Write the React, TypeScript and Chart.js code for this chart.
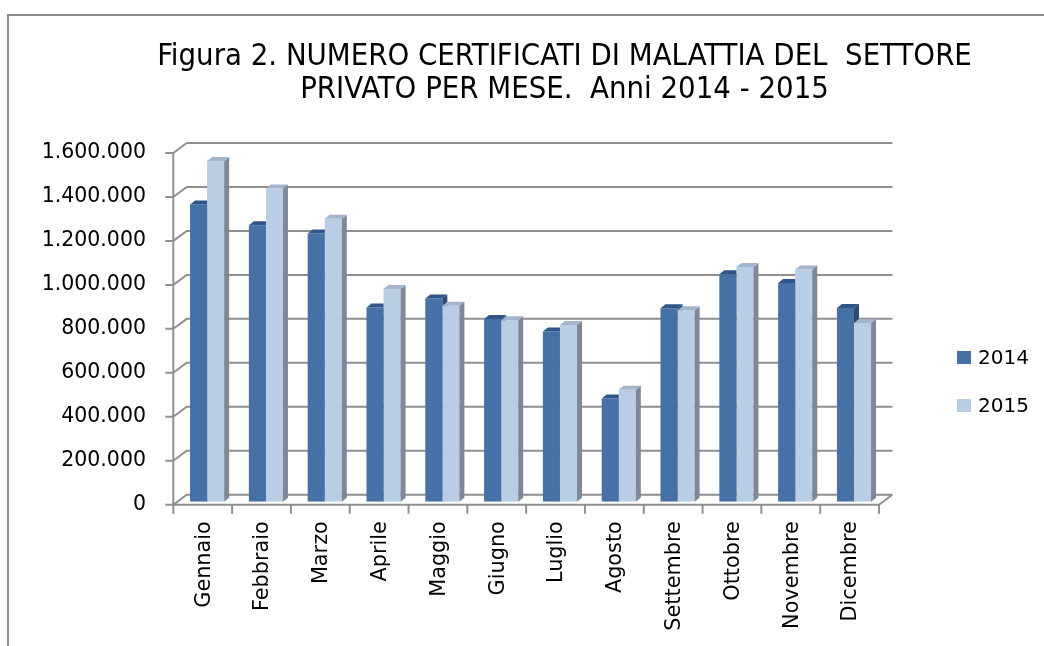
import React, { useEffect, useRef } from 'react';
import { Chart, registerables } from 'chart.js';

Chart.register(...registerables);

// ---------------- data ----------------
const months = [
  'Gennaio', 'Febbraio', 'Marzo', 'Aprile', 'Maggio', 'Giugno',
  'Luglio', 'Agosto', 'Settembre', 'Ottobre', 'Novembre', 'Dicembre',
];
const series2014 = [1352000, 1258000, 1220000, 884000, 924000, 831000, 774000, 470000, 880000, 1035000, 995000, 881000];
const series2015 = [1550000, 1425000, 1287000, 968000, 892000, 825000, 804000, 509000, 871000, 1068000, 1056000, 813000];
const seriesLabels = ['2014', '2015'];
const yTickValues = [0, 200000, 400000, 600000, 800000, 1000000, 1200000, 1400000, 1600000];
const titleLines = [
  'Figura 2. NUMERO CERTIFICATI DI MALATTIA DEL  SETTORE',
  'PRIVATO PER MESE.  Anni 2014 - 2015',
];

// ---------------- layout / style ----------------
const W = 1044;
const H = 646;
const AREA = { left: 177.7, right: 883.4, top: 150, bottom: 501.7 };
const FRONT = { dx: -4.4, dy: 3 };
const DEPTH = { dx: 13.4, dy: -10 };
const BAR_DEPTH = { dx: 5, dy: -4 };
const FONT = "'DejaVu Sans', Verdana, sans-serif";
const FONT_COND = "'DejaVu Sans Condensed', 'DejaVu Sans', Verdana, sans-serif";
const Y_LABEL_SIZE = 20.5;
const X_LABEL_SIZE = 20.8;
const LEGEND_SIZE = 20;
const GRID_COLOR = '#8f8f8f';
const COLORS = {
  front: ['#4571a6', '#b9cde5'],
  side: ['#2b4b75', '#7c8998'],
  top: ['#2f5588', '#a2b5cc'],
};

const fmt = (n: number) => String(Math.round(n)).replace(/\B(?=(\d{3})+(?!\d))/g, '.');

function barGeom(el: any) {
  const { x, y, base, width } = el.getProps(['x', 'y', 'base', 'width'], true);
  return { l: x - width / 2, r: x + width / 2, y, base };
}

function drawFaces(ctx: any, g: any, idx: number) {
  const { l, r, y, base } = g;
  ctx.fillStyle = COLORS.side[idx];
  ctx.beginPath();
  ctx.moveTo(r, y);
  ctx.lineTo(r + BAR_DEPTH.dx, y + BAR_DEPTH.dy);
  ctx.lineTo(r + BAR_DEPTH.dx, base + BAR_DEPTH.dy);
  ctx.lineTo(r, base);
  ctx.closePath();
  ctx.fill();
  ctx.fillStyle = COLORS.top[idx];
  ctx.beginPath();
  ctx.moveTo(l, y);
  ctx.lineTo(r, y);
  ctx.lineTo(r + BAR_DEPTH.dx, y + BAR_DEPTH.dy);
  ctx.lineTo(l + BAR_DEPTH.dx, y + BAR_DEPTH.dy);
  ctx.closePath();
  ctx.fill();
}

const depthPlugin = {
  id: 'depth3d',
  beforeDraw(chart: any) {
    const ctx = chart.ctx;
    ctx.save();
    ctx.fillStyle = '#ffffff';
    ctx.fillRect(0, 0, W, H);
    // outer frame
    ctx.strokeStyle = '#8c8c8c';
    ctx.lineWidth = 2;
    ctx.beginPath();
    ctx.moveTo(8, H);
    ctx.lineTo(8, 15);
    ctx.lineTo(W, 15);
    ctx.stroke();
    // title
    let size = 25;
    ctx.font = `${size}px ${FONT_COND}`;
    const w = ctx.measureText(titleLines[0]).width;
    size = size * 815 / w;
    ctx.font = `${size}px ${FONT_COND}`;
    ctx.fillStyle = '#000';
    ctx.textAlign = 'center';
    ctx.textBaseline = 'alphabetic';
    ctx.fillText(titleLines[0], 564.5, 65);
    ctx.fillText(titleLines[1], 564.5, 98);
    // legend
    const legendY = [357.5, 405.5];
    ctx.font = `${LEGEND_SIZE}px ${FONT}`;
    ctx.textAlign = 'left';
    ctx.textBaseline = 'middle';
    seriesLabels.forEach((lab, i) => {
      ctx.fillStyle = COLORS.front[i];
      ctx.fillRect(957, legendY[i] - 6.5, 14, 13);
      ctx.fillStyle = '#000';
      ctx.fillText(lab, 978, legendY[i] + 1);
    });
    ctx.restore();
  },
  beforeDatasetsDraw(chart: any) {
    const ctx = chart.ctx;
    const ys = chart.scales.y;
    const area = chart.chartArea;
    const fx = area.left + FRONT.dx;
    const fxr = area.right + FRONT.dx;
    const bx = fx + DEPTH.dx;
    const bxr = fxr + DEPTH.dx;
    ctx.save();
    ctx.strokeStyle = GRID_COLOR;
    ctx.lineWidth = 2;
    ctx.lineCap = 'butt';
    ctx.beginPath();
    yTickValues.forEach((v) => {
      const fy = ys.getPixelForValue(v) + FRONT.dy;
      const by = fy + DEPTH.dy;
      ctx.moveTo(fx - 8, fy);
      ctx.lineTo(fx, fy);
      ctx.lineTo(bx, by);
      ctx.lineTo(bxr, by);
    });
    const f0 = ys.getPixelForValue(0) + FRONT.dy;
    const fTop = ys.getPixelForValue(yTickValues[yTickValues.length - 1]) + FRONT.dy;
    ctx.moveTo(fx, fTop);
    ctx.lineTo(fx, f0);
    ctx.moveTo(fxr, f0);
    ctx.lineTo(bxr, f0 + DEPTH.dy);
    ctx.moveTo(fx, f0);
    ctx.lineTo(fxr, f0);
    const step = (area.right - area.left) / months.length;
    for (let i = 0; i <= months.length; i++) {
      const xi = fx + i * step;
      ctx.moveTo(xi, f0);
      ctx.lineTo(xi, f0 + 9);
    }
    ctx.stroke();
    ctx.restore();
  },
  afterDatasetsDraw(chart: any) {
    const ctx = chart.ctx;
    const m0 = chart.getDatasetMeta(0);
    const m1 = chart.getDatasetMeta(1);
    m0.data.forEach((el: any, i: number) => {
      const g0 = barGeom(el);
      const g1 = barGeom(m1.data[i]);
      // 2014 faces, hidden behind the 2015 front face
      ctx.save();
      ctx.beginPath();
      ctx.rect(0, 0, W, H);
      ctx.rect(g1.l, g1.y, g1.r - g1.l, g1.base - g1.y);
      ctx.clip('evenodd');
      drawFaces(ctx, g0, 0);
      ctx.restore();
      ctx.save();
      drawFaces(ctx, g1, 1);
      ctx.restore();
    });
  },
};

export default function App() {
  const ref = useRef<HTMLCanvasElement | null>(null);
  useEffect(() => {
    if (!ref.current) return;
    const chart = new Chart(ref.current, {
      type: 'bar',
      data: {
        labels: months,
        datasets: [
          { label: seriesLabels[0], data: series2014, backgroundColor: COLORS.front[0], borderWidth: 0 },
          { label: seriesLabels[1], data: series2015, backgroundColor: COLORS.front[1], borderWidth: 0 },
        ],
      },
      options: {
        responsive: false,
        animation: false,
        devicePixelRatio: 1,
        layout: { padding: { top: AREA.top, right: W - AREA.right, bottom: 0, left: 0 } },
        datasets: { bar: { categoryPercentage: 0.58, barPercentage: 1 } },
        plugins: {
          legend: { display: false },
          title: { display: false },
          tooltip: { enabled: false },
        },
        scales: {
          x: {
            grid: { display: false, drawTicks: false, tickLength: 0 },
            border: { display: false },
            ticks: {
              autoSkip: false,
              minRotation: 90,
              maxRotation: 90,
              labelOffset: FRONT.dx + 1.5,
              padding: 19.5,
              color: '#000',
              font: { family: FONT, size: X_LABEL_SIZE },
            },
            afterFit: (s: any) => { s.height = H - AREA.bottom; },
          },
          y: {
            min: 0,
            max: 1600000,
            grid: { display: false, drawTicks: false, tickLength: 0 },
            border: { display: false },
            ticks: {
              stepSize: 200000,
              labelOffset: FRONT.dy,
              padding: AREA.left - 146,
              color: '#000',
              font: { family: FONT, size: Y_LABEL_SIZE },
              callback: (v: any) => fmt(Number(v)),
            },
            afterFit: (s: any) => { s.width = AREA.left; },
          },
        },
      } as any,
      plugins: [depthPlugin],
    });
    return () => chart.destroy();
  }, []);
  return (
    <div style={{ position: 'absolute', left: 0, top: 0, width: W, height: H, background: '#fff' }}>
      <canvas ref={ref} width={W} height={H} style={{ display: 'block' }} />
    </div>
  );
}
